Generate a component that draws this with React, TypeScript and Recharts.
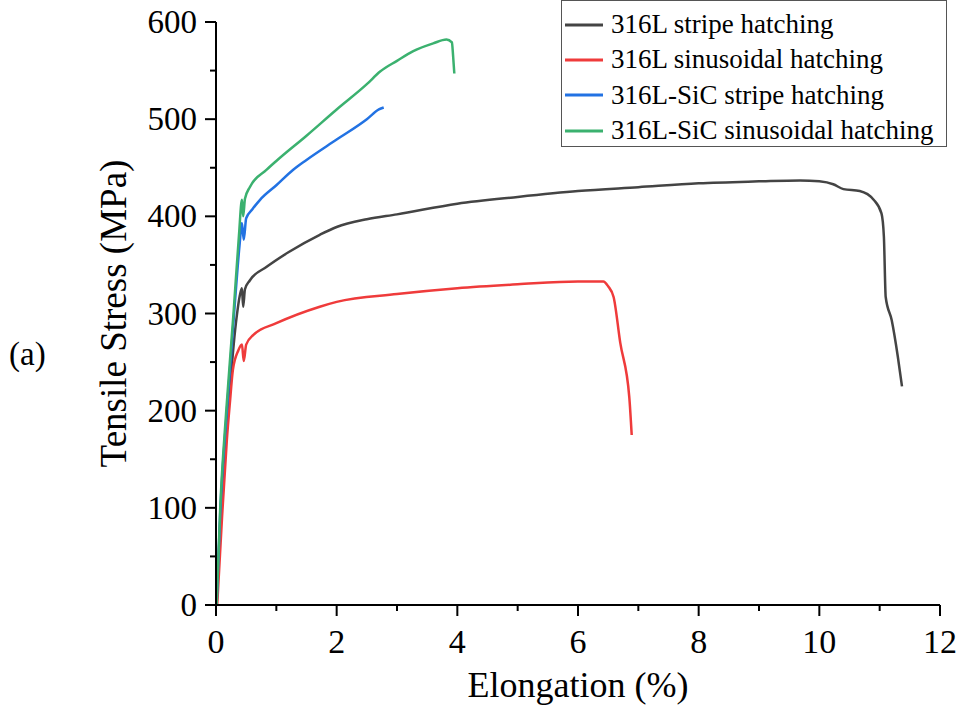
import React from 'react';
import { LineChart, Line, XAxis, YAxis, Legend } from 'recharts';

// elongation (%), tensile stress (MPa)
const stripe316L: [number, number][] = [
  [0.01, 0], [0.08, 100], [0.2, 200], [0.33, 290], [0.4, 320], [0.43, 326], [0.45, 307],
  [0.48, 325], [0.56, 334], [0.84, 348], [1.2, 363], [1.72, 381], [2, 389], [2.5, 397],
  [3, 402], [4, 413], [5, 420], [6, 426], [7, 430], [8, 434], [9, 436], [9.68, 437],
  [10, 436], [10.23, 433], [10.4, 428], [10.67, 426], [10.9, 417], [11.03, 403],
  [11.07, 379], [11.1, 317], [11.2, 293], [11.3, 256], [11.37, 225],
];
const sinus316L: [number, number][] = [
  [0.02, 0], [0.1, 90], [0.18, 170], [0.23, 208], [0.28, 242], [0.37, 262], [0.43, 268],
  [0.46, 251], [0.5, 268], [0.62, 278], [1, 290], [1.72, 307], [2, 312], [3, 320],
  [4, 326], [5, 330], [6, 333], [6.42, 333], [6.5, 328], [6.59, 317], [6.7, 270],
  [6.85, 214], [6.89, 175],
];
const stripeSiC: [number, number][] = [
  [0.01, 0], [0.07, 95], [0.18, 200], [0.3, 300], [0.39, 370], [0.43, 393], [0.46, 376],
  [0.5, 398], [0.6, 407], [0.73, 417], [1, 432], [1.28, 448], [1.5, 458], [2, 479],
  [2.5, 500], [2.7, 510], [2.78, 512],
];
const sinusSiC: [number, number][] = [
  [0.01, 0], [0.07, 100], [0.17, 200], [0.29, 300], [0.38, 380], [0.43, 417], [0.45, 400],
  [0.48, 418], [0.56, 430], [0.84, 448], [1, 457], [1.5, 483], [2, 510], [2.5, 536],
  [2.72, 549], [3, 560], [3.27, 570], [3.6, 578], [3.82, 582], [3.91, 579], [3.93, 565],
  [3.95, 547],
];

const xTicks = [0, 1, 2, 3, 4, 5, 6, 7, 8, 9, 10, 11, 12];
const yTicks = [0, 50, 100, 150, 200, 250, 300, 350, 400, 450, 500, 550, 600];

const series = [
  { name: '316L stripe hatching', color: '#444444', pts: stripe316L },
  { name: '316L sinusoidal hatching', color: '#ef3b3b', pts: sinus316L },
  { name: '316L-SiC stripe hatching', color: '#2272e3', pts: stripeSiC },
  { name: '316L-SiC sinusoidal hatching', color: '#3bb16f', pts: sinusSiC },
];

const FONT = '"Liberation Serif", "Times New Roman", serif';

const XTick = (props: any) => {
  const { x, y, payload } = props;
  const major = payload.value % 2 === 0;
  return (
    <g>
      <line x1={x} x2={x} y1={y} y2={y + (major ? 11 : 6)} stroke="#000" strokeWidth={2} />
      {major && (
        <text x={x} y={y + 48} textAnchor="middle" fontSize={34} fontFamily={FONT} fill="#000">
          {payload.value}
        </text>
      )}
    </g>
  );
};

const YTick = (props: any) => {
  const { x, y, payload } = props;
  const major = payload.value % 100 === 0;
  return (
    <g>
      <line x1={x} x2={x - (major ? 11 : 6)} y1={y} y2={y} stroke="#000" strokeWidth={2} />
      {major && (
        <text x={x - 19} y={y + 11} textAnchor="end" fontSize={33} fontFamily={FONT} fill="#000">
          {payload.value}
        </text>
      )}
    </g>
  );
};

const renderLegend = () => (
  <div
    style={{
      boxSizing: 'border-box',
      width: 386,
      height: 147,
      border: '1px solid #555',
      background: '#fff',
      paddingTop: 6,
      fontFamily: FONT,
      fontSize: 27,
    }}
  >
    {series.map((s) => (
      <div key={s.name} style={{ display: 'flex', alignItems: 'center', height: 35.3 }}>
        <svg width={46} height={10} style={{ marginLeft: 3 }}>
          <line x1={0} x2={38} y1={5} y2={5} stroke={s.color} strokeWidth={3} />
        </svg>
        <span style={{ lineHeight: '35px' }}>{s.name}</span>
      </div>
    ))}
  </div>
);

export default function App() {
  return (
    <div style={{ position: 'absolute', left: 0, top: 0, width: 959, height: 708, background: '#fff' }}>
      <div
        style={{
          position: 'absolute',
          left: 9,
          top: 336,
          fontFamily: FONT,
          fontSize: 33,
        }}
      >
        (a)
      </div>
      <LineChart
        width={959}
        height={708}
        margin={{ top: 22, right: 19, bottom: 3, left: 116 }}
        style={{ position: 'absolute', left: 0, top: 0 }}
      >
        <XAxis
          type="number"
          dataKey="x"
          domain={[0, 12]}
          ticks={xTicks}
          interval={0}
          height={100}
          tickSize={0}
          tickMargin={0}
          tickLine={false}
          tick={<XTick />}
          axisLine={{ stroke: '#000', strokeWidth: 2 }}
          allowDataOverflow
          label={{
            value: 'Elongation (%)',
            position: 'insideBottom',
            offset: 8,
            style: { fontSize: 36, fontFamily: FONT, fill: '#000' },
          }}
        />
        <YAxis
          type="number"
          dataKey="y"
          domain={[0, 600]}
          ticks={yTicks}
          interval={0}
          width={100}
          tickSize={0}
          tickMargin={0}
          tickLine={false}
          tick={<YTick />}
          axisLine={{ stroke: '#000', strokeWidth: 2 }}
          allowDataOverflow
          label={{
            value: 'Tensile Stress (MPa)',
            angle: -90,
            position: 'insideLeft',
            offset: -3,
            style: { fontSize: 37, fontFamily: FONT, fill: '#000', textAnchor: 'middle' },
          }}
        />
        <Legend
          layout="horizontal"
          verticalAlign="middle"
          align="center"
          content={renderLegend}
          wrapperStyle={{ top: 0, left: 561, width: 386, height: 147 }}
        />
        {series.map((s) => (
          <Line
            key={s.name}
            data={s.pts.map(([x, y]) => ({ x, y }))}
            dataKey="y"
            name={s.name}
            type="monotone"
            stroke={s.color}
            strokeWidth={2.5}
            dot={false}
            activeDot={false}
            isAnimationActive={false}
          />
        ))}
      </LineChart>
    </div>
  );
}
